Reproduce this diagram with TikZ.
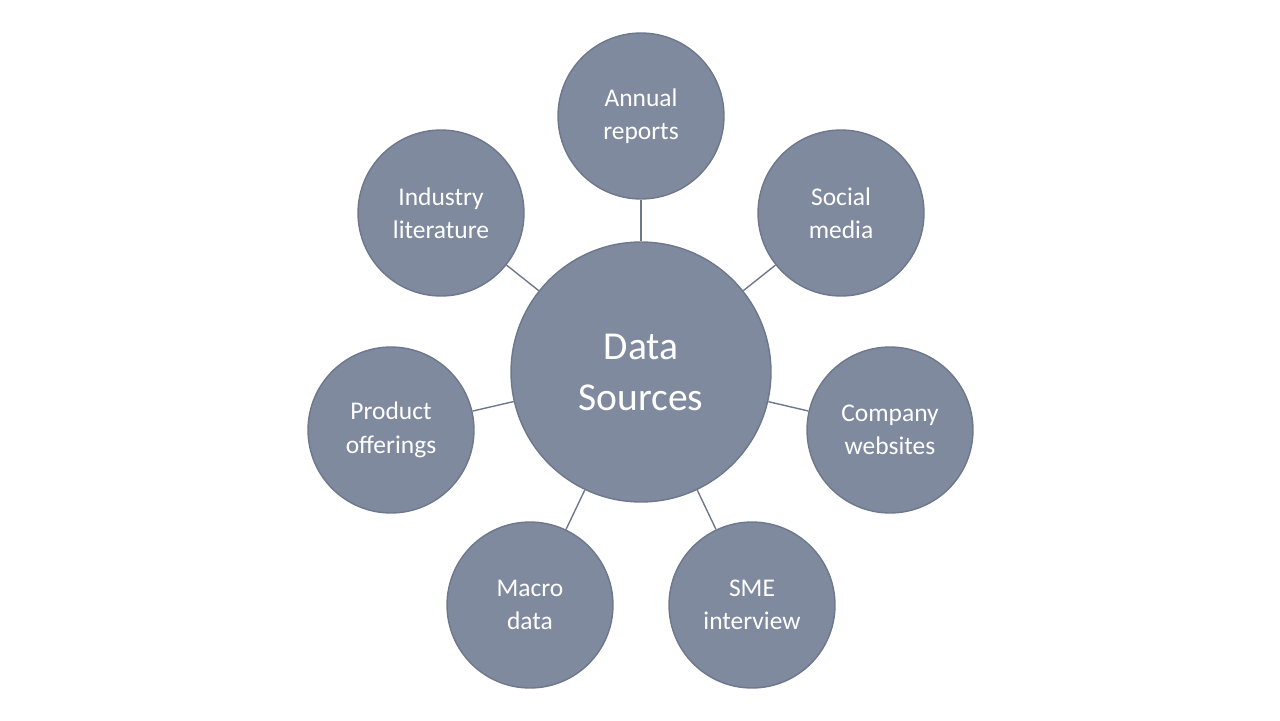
\documentclass[tikz,border=0pt]{standalone}
\usepackage{fontspec}
\setmainfont{Carlito}
\definecolor{bub}{RGB}{127,138,158}
\definecolor{bubline}{RGB}{110,120,140}
\begin{document}
\begin{tikzpicture}[x=0.02cm,y=-0.02cm,
  sat/.style={circle,fill=bub,draw=bubline,line width=0.8pt,minimum size=3.32cm,inner sep=0pt,text=white,align=center,font=\fontsize{14.5}{19}\selectfont},
  hub/.style={circle,fill=bub,draw=bubline,line width=0.8pt,minimum size=5.2cm,inner sep=0pt,text=white,align=center,font=\fontsize{22.5}{29}\selectfont},
  link/.style={draw=bubline,line width=0.8pt}]
\useasboundingbox (0,0) rectangle (1280,720);
\node[hub] (c) at (641,372) {Data\\Sources};
\node[sat] (a) at (641,116) {Annual\\reports};
\node[sat] (s) at (841,213) {Social\\media};
\node[sat] (w) at (890,430) {Company\\websites};
\node[sat] (e) at (752,605) {SME\\interview};
\node[sat] (m) at (530,605) {Macro\\data};
\node[sat] (p) at (391,430) {Product\\offerings};
\node[sat] (i) at (441,213) {Industry\\literature};
\foreach \n in {a,s,w,e,m,p,i} \draw[link] (c) -- (\n);
\end{tikzpicture}
\end{document}
